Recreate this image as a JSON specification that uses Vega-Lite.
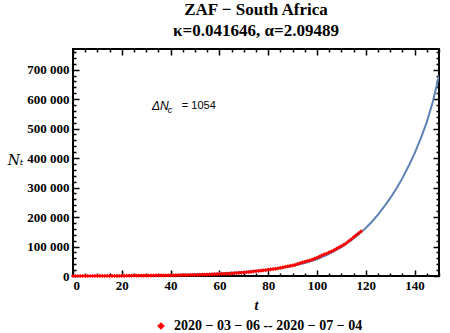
{
  "$schema": "https://vega.github.io/schema/vega-lite/v6.json",
  "width": 366,
  "height": 227,
  "autosize": {"type": "none"},
  "padding": {"left": 73, "top": 49, "right": 11, "bottom": 57},
  "background": "white",
  "config": {
    "view": {"stroke": "black", "strokeWidth": 2},
    "axis": {"domain": false, "grid": false, "ticks": true, "tickColor": "black", "tickWidth": 1.5, "tickOpacity": 1, "labelColor": "black", "titleColor": "black", "zindex": 1}
  },
  "title": {
    "text": ["ZAF − South Africa", "κ=0.041646,  α=2.09489"],
    "font": "Liberation Serif",
    "fontSize": 17,
    "fontWeight": "bold",
    "lineHeight": 21,
    "anchor": "middle",
    "color": "black",
    "offset": 8
  },
  "datasets": {
    "model": [
      {"t": 0, "N": 0}, {"t": 10, "N": 50}, {"t": 20, "N": 500}, {"t": 30, "N": 1600},
      {"t": 40, "N": 3200}, {"t": 50, "N": 5500}, {"t": 60, "N": 8800}, {"t": 70, "N": 13500},
      {"t": 80, "N": 21000}, {"t": 90, "N": 34000}, {"t": 95, "N": 44000}, {"t": 100, "N": 57000},
      {"t": 105, "N": 75000}, {"t": 110, "N": 98000}, {"t": 115, "N": 127000}, {"t": 118, "N": 148000},
      {"t": 120, "N": 163000}, {"t": 122.5, "N": 184000}, {"t": 125, "N": 208000}, {"t": 127.5, "N": 235000},
      {"t": 130, "N": 264000}, {"t": 132.5, "N": 296000}, {"t": 135, "N": 332000}, {"t": 137.5, "N": 372000},
      {"t": 140, "N": 416000}, {"t": 142.5, "N": 466000}, {"t": 145, "N": 522000}, {"t": 147.5, "N": 592000},
      {"t": 150, "N": 680000}
    ],
    "obs": [
      {"t": 0, "N": 0}, {"t": 1, "N": 1}, {"t": 2, "N": 1}, {"t": 3, "N": 1}, {"t": 4, "N": 3},
      {"t": 5, "N": 7}, {"t": 6, "N": 7}, {"t": 7, "N": 13}, {"t": 8, "N": 17}, {"t": 9, "N": 24},
      {"t": 10, "N": 38}, {"t": 11, "N": 51}, {"t": 12, "N": 62}, {"t": 13, "N": 62}, {"t": 14, "N": 116},
      {"t": 15, "N": 150}, {"t": 16, "N": 202}, {"t": 17, "N": 240}, {"t": 18, "N": 274}, {"t": 19, "N": 402},
      {"t": 20, "N": 554}, {"t": 21, "N": 709}, {"t": 22, "N": 927}, {"t": 23, "N": 1170}, {"t": 24, "N": 1187},
      {"t": 25, "N": 1280}, {"t": 26, "N": 1326}, {"t": 27, "N": 1353}, {"t": 28, "N": 1380}, {"t": 29, "N": 1462},
      {"t": 30, "N": 1505}, {"t": 31, "N": 1585}, {"t": 32, "N": 1655}, {"t": 33, "N": 1686}, {"t": 34, "N": 1749},
      {"t": 35, "N": 1845}, {"t": 36, "N": 1934}, {"t": 37, "N": 2003}, {"t": 38, "N": 2028}, {"t": 39, "N": 2173},
      {"t": 40, "N": 2272}, {"t": 41, "N": 2415}, {"t": 42, "N": 2506}, {"t": 43, "N": 2605}, {"t": 44, "N": 2783},
      {"t": 45, "N": 3034}, {"t": 46, "N": 3158}, {"t": 47, "N": 3300}, {"t": 48, "N": 3465}, {"t": 49, "N": 3635},
      {"t": 50, "N": 3953}, {"t": 51, "N": 4220}, {"t": 52, "N": 4361}, {"t": 53, "N": 4546}, {"t": 54, "N": 4793},
      {"t": 55, "N": 4996}, {"t": 56, "N": 5350}, {"t": 57, "N": 5647}, {"t": 58, "N": 5951}, {"t": 59, "N": 6336},
      {"t": 60, "N": 6783}, {"t": 61, "N": 7220}, {"t": 62, "N": 7572}, {"t": 63, "N": 7808}, {"t": 64, "N": 8232},
      {"t": 65, "N": 8895}, {"t": 66, "N": 9420}, {"t": 67, "N": 10015}, {"t": 68, "N": 10652}, {"t": 69, "N": 11350},
      {"t": 70, "N": 12074}, {"t": 71, "N": 12739}, {"t": 72, "N": 13524}, {"t": 73, "N": 14355}, {"t": 74, "N": 15515},
      {"t": 75, "N": 16433}, {"t": 76, "N": 17200}, {"t": 77, "N": 18003}, {"t": 78, "N": 19137}, {"t": 79, "N": 20125},
      {"t": 80, "N": 21343}, {"t": 81, "N": 22583}, {"t": 82, "N": 23615}, {"t": 83, "N": 24264}, {"t": 84, "N": 25937},
      {"t": 85, "N": 27403}, {"t": 86, "N": 29240}, {"t": 87, "N": 30967}, {"t": 88, "N": 32683}, {"t": 89, "N": 34357},
      {"t": 90, "N": 35812}, {"t": 91, "N": 37525}, {"t": 92, "N": 40792}, {"t": 93, "N": 43434}, {"t": 94, "N": 45973},
      {"t": 95, "N": 48285}, {"t": 96, "N": 50879}, {"t": 97, "N": 52991}, {"t": 98, "N": 55421}, {"t": 99, "N": 58568},
      {"t": 100, "N": 61927}, {"t": 101, "N": 65736}, {"t": 102, "N": 70038}, {"t": 103, "N": 73533}, {"t": 104, "N": 76334},
      {"t": 105, "N": 80412}, {"t": 106, "N": 83890}, {"t": 107, "N": 87715}, {"t": 108, "N": 92681}, {"t": 109, "N": 97302},
      {"t": 110, "N": 101590}, {"t": 111, "N": 106108}, {"t": 112, "N": 111796}, {"t": 113, "N": 118375}, {"t": 114, "N": 124590},
      {"t": 115, "N": 131800}, {"t": 116, "N": 138134}, {"t": 117, "N": 144264}, {"t": 118, "N": 151209}
    ],
    "notes": [
      {"t": 32.4, "N": 575000, "label": "ΔN", "kind": "a"},
      {"t": 38.8, "N": 562000, "label": "c", "kind": "b"},
      {"t": 44.6, "N": 575000, "label": "=  1054", "kind": "c"}
    ]
  },
  "layer": [
    {
      "data": {"name": "model"},
      "mark": {"type": "line", "color": "#5E81B5", "strokeWidth": 2, "clip": true},
      "encoding": {
        "x": {
          "field": "t", "type": "quantitative",
          "scale": {"domain": [0, 150], "nice": false, "zero": false},
          "axis": {
            "orient": "bottom",
            "offset": -6,
            "values": [0,5,10,15,20,25,30,35,40,45,50,55,60,65,70,75,80,85,90,95,100,105,110,115,120,125,130,135,140,145,150],
            "labelExpr": "datum.value % 20 === 0 ? datum.label : ''",
            "tickSize": 6,
            "tickDash": {"condition": {"test": "datum.value % 20 === 0", "value": [8, 0]}, "value": [0, 3, 3, 20]},
            "labelFont": "Liberation Serif",
            "labelFontWeight": "bold",
            "labelFontSize": 13,
            "labelPadding": 3,
            "title": "t",
            "titleFont": "Liberation Serif",
            "titleFontStyle": "italic",
            "titleFontWeight": "bold",
            "titleFontSize": 14,
            "titlePadding": 6
          }
        },
        "y": {
          "field": "N", "type": "quantitative",
          "scale": {"domain": [0, 770000], "nice": false},
          "axis": {
            "orient": "left",
            "offset": -6,
            "values": [0,20000,40000,60000,80000,100000,120000,140000,160000,180000,200000,220000,240000,260000,280000,300000,320000,340000,360000,380000,400000,420000,440000,460000,480000,500000,520000,540000,560000,580000,600000,620000,640000,660000,680000,700000,720000,740000,760000],
            "labelExpr": "datum.value % 100000 === 0 ? replace(format(datum.value, ','), ',', ' ') : ''",
            "tickSize": 6,
            "tickDash": {"condition": {"test": "datum.value % 100000 === 0", "value": [8, 0]}, "value": [0, 3, 3, 20]},
            "labelFont": "Liberation Serif",
            "labelFontWeight": "bold",
            "labelFontSize": 13,
            "labelPadding": 4,
            "title": "Nₜ",
            "titleFont": "DejaVu Serif",
            "titleFontStyle": "italic",
            "titleFontWeight": "normal",
            "titleFontSize": 14,
            "titleAngle": 0,
            "titleAlign": "center",
            "titleBaseline": "middle",
            "titleX": -64,
            "titleY": 111
          }
        }
      }
    },
    {
      "data": {"name": "obs"},
      "mark": {"type": "point", "shape": "diamond", "filled": true, "size": 18, "opacity": 1},
      "encoding": {
        "x": {"field": "t", "type": "quantitative", "axis": null},
        "y": {"field": "N", "type": "quantitative", "axis": null},
        "color": {
          "datum": "2020 − 03 − 06  --  2020 − 07 − 04",
          "type": "nominal",
          "scale": {"range": ["#FF0000"]},
          "legend": {
            "title": null,
            "orient": "none",
            "legendX": 81,
            "legendY": 270,
            "symbolType": "diamond",
            "symbolSize": 60,
            "labelFont": "Liberation Serif",
            "labelFontWeight": "bold",
            "labelFontSize": 14,
            "labelColor": "black",
            "labelLimit": 0,
            "labelOffset": 6
          }
        }
      }
    },
    {
      "data": {"name": "notes"},
      "transform": [{"filter": "datum.kind === 'a'"}],
      "mark": {"type": "text", "align": "left", "baseline": "middle", "font": "Liberation Sans", "fontStyle": "italic", "fontSize": 12, "color": "black"},
      "encoding": {
        "x": {"field": "t", "type": "quantitative", "axis": null},
        "y": {"field": "N", "type": "quantitative", "axis": null},
        "text": {"field": "label"}
      }
    },
    {
      "data": {"name": "notes"},
      "transform": [{"filter": "datum.kind === 'b'"}],
      "mark": {"type": "text", "align": "left", "baseline": "middle", "font": "Liberation Sans", "fontStyle": "italic", "fontSize": 9, "color": "black"},
      "encoding": {
        "x": {"field": "t", "type": "quantitative", "axis": null},
        "y": {"field": "N", "type": "quantitative", "axis": null},
        "text": {"field": "label"}
      }
    },
    {
      "data": {"name": "notes"},
      "transform": [{"filter": "datum.kind === 'c'"}],
      "mark": {"type": "text", "align": "left", "baseline": "middle", "font": "Liberation Sans", "fontSize": 11, "color": "black"},
      "encoding": {
        "x": {"field": "t", "type": "quantitative", "axis": null},
        "y": {"field": "N", "type": "quantitative", "axis": null},
        "text": {"field": "label"}
      }
    },
    {
      "data": {"name": "model"},
      "mark": {"type": "line", "opacity": 0},
      "encoding": {
        "x": {
          "field": "t", "type": "quantitative",
          "axis": {
            "orient": "top",
            "offset": -6,
            "values": [0,5,10,15,20,25,30,35,40,45,50,55,60,65,70,75,80,85,90,95,100,105,110,115,120,125,130,135,140,145,150],
            "labels": false,
            "title": null,
            "tickSize": 6,
            "tickDash": {"condition": {"test": "datum.value % 20 === 0", "value": [8, 0]}, "value": [0, 3, 3, 20]}
          }
        },
        "y": {
          "field": "N", "type": "quantitative",
          "axis": {
            "orient": "right",
            "offset": -6,
            "values": [0,20000,40000,60000,80000,100000,120000,140000,160000,180000,200000,220000,240000,260000,280000,300000,320000,340000,360000,380000,400000,420000,440000,460000,480000,500000,520000,540000,560000,580000,600000,620000,640000,660000,680000,700000,720000,740000,760000],
            "labels": false,
            "title": null,
            "tickSize": 6,
            "tickDash": {"condition": {"test": "datum.value % 100000 === 0", "value": [8, 0]}, "value": [0, 3, 3, 20]}
          }
        }
      }
    }
  ],
  "resolve": {"axis": {"x": "independent", "y": "independent"}}
}
